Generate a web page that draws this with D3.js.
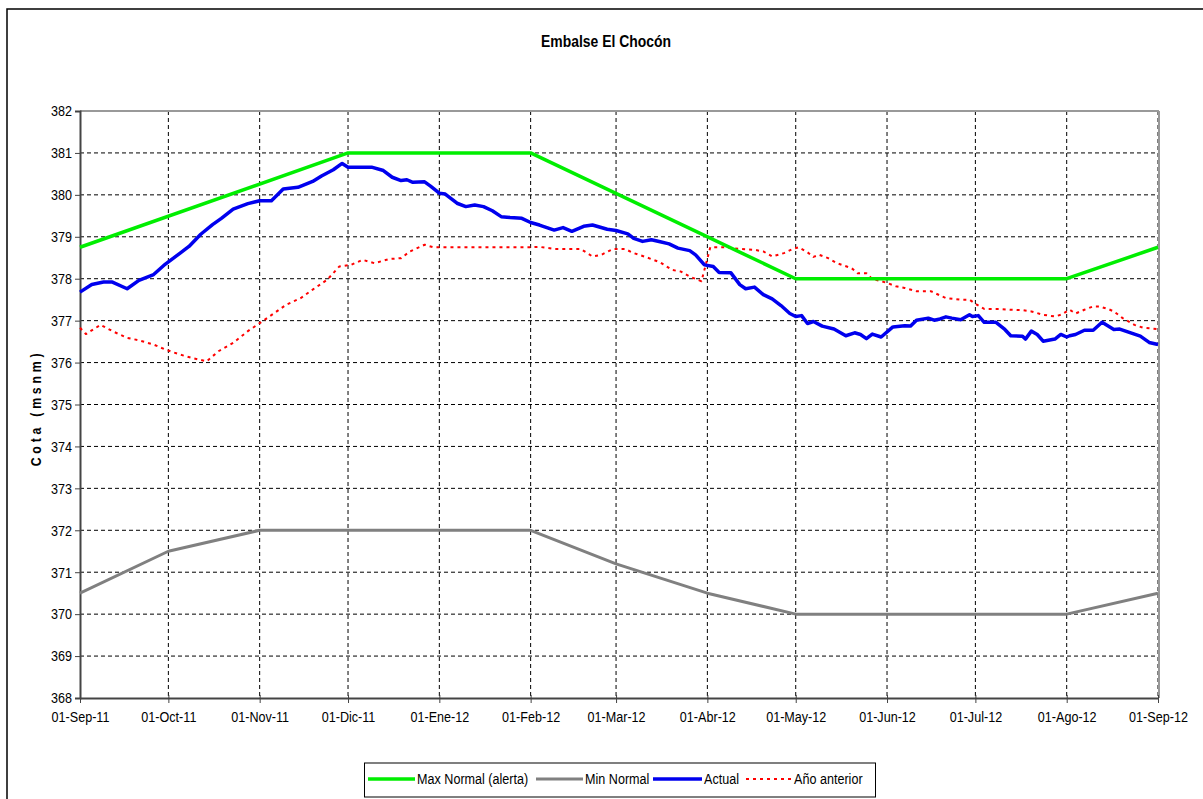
<!DOCTYPE html>
<html><head><meta charset="utf-8">
<script src="https://cdn.jsdelivr.net/npm/d3@7/dist/d3.min.js"></script>
<style>
body{margin:0;background:#fff;}
svg text{font-family:"Liberation Sans Narrow","Arial Narrow","Liberation Sans",Arial,sans-serif;}
</style>
</head><body>
<svg id="c" width="1203" height="799"></svg>
<script>
const title = "Embalse El Chocón";
const yLabel = "Cota (msnm)";
const tickDates = ["2011-09-01","2011-10-01","2011-11-01","2011-12-01","2012-01-01","2012-02-01","2012-03-01","2012-04-01","2012-05-01","2012-06-01","2012-07-01","2012-08-01","2012-09-01"];
const tickLabels = ["01-Sep-11","01-Oct-11","01-Nov-11","01-Dic-11","01-Ene-12","01-Feb-12","01-Mar-12","01-Abr-12","01-May-12","01-Jun-12","01-Jul-12","01-Ago-12","01-Sep-12"];
const yTicks = [368,369,370,371,372,373,374,375,376,377,378,379,380,381,382];

const maxDates = ["2011-09-01","2011-12-01","2012-02-01","2012-05-01","2012-08-01","2012-09-01"];
const maxValues = [378.75,381,381,378,378,378.75];

const minDates = ["2011-09-01","2011-10-01","2011-11-01","2012-02-01","2012-03-01","2012-04-01","2012-05-01","2012-08-01","2012-09-01"];
const minValues = [370.5,371.5,372,372,371.2,370.5,370,370,370.5];

const actualDates = ["2011-09-01","2011-09-05","2011-09-09","2011-09-12","2011-09-17","2011-09-21","2011-09-26","2011-09-30","2011-10-05","2011-10-08","2011-10-12","2011-10-16","2011-10-19","2011-10-23","2011-10-28","2011-11-01","2011-11-05","2011-11-09","2011-11-14","2011-11-19","2011-11-22","2011-11-26","2011-11-29","2011-12-01","2011-12-05","2011-12-09","2011-12-13","2011-12-16","2011-12-19","2011-12-21","2011-12-23","2011-12-27","2011-12-29","2012-01-01","2012-01-03","2012-01-07","2012-01-10","2012-01-13","2012-01-16","2012-01-19","2012-01-22","2012-01-25","2012-01-29","2012-02-01","2012-02-04","2012-02-09","2012-02-12","2012-02-15","2012-02-19","2012-02-22","2012-02-27","2012-03-01","2012-03-05","2012-03-07","2012-03-10","2012-03-13","2012-03-16","2012-03-19","2012-03-22","2012-03-26","2012-03-28","2012-03-31","2012-04-03","2012-04-05","2012-04-09","2012-04-12","2012-04-14","2012-04-17","2012-04-20","2012-04-23","2012-04-26","2012-04-29","2012-05-01","2012-05-03","2012-05-05","2012-05-07","2012-05-10","2012-05-14","2012-05-18","2012-05-21","2012-05-23","2012-05-25","2012-05-27","2012-05-30","2012-06-03","2012-06-07","2012-06-09","2012-06-11","2012-06-15","2012-06-17","2012-06-19","2012-06-21","2012-06-23","2012-06-26","2012-06-29","2012-06-30","2012-07-02","2012-07-04","2012-07-08","2012-07-11","2012-07-13","2012-07-17","2012-07-18","2012-07-20","2012-07-22","2012-07-24","2012-07-28","2012-07-30","2012-08-01","2012-08-02","2012-08-04","2012-08-07","2012-08-10","2012-08-13","2012-08-17","2012-08-19","2012-08-21","2012-08-26","2012-08-29","2012-09-01"];
const actualValues = [377.68,377.86,377.92,377.92,377.76,377.96,378.10,378.35,378.61,378.77,379.06,379.29,379.44,379.66,379.79,379.86,379.86,380.14,380.18,380.32,380.45,380.60,380.75,380.66,380.66,380.66,380.58,380.42,380.34,380.36,380.30,380.31,380.21,380.04,380.02,379.80,379.72,379.76,379.72,379.62,379.48,379.46,379.44,379.34,379.28,379.16,379.22,379.13,379.25,379.28,379.18,379.15,379.07,378.96,378.89,378.93,378.88,378.83,378.73,378.67,378.57,378.33,378.29,378.15,378.14,377.86,377.76,377.80,377.62,377.52,377.36,377.17,377.10,377.12,376.93,376.98,376.87,376.80,376.64,376.71,376.67,376.57,376.68,376.61,376.85,376.88,376.87,377.01,377.06,377.01,377.04,377.09,377.06,377.02,377.14,377.10,377.12,376.96,376.96,376.79,376.64,376.63,376.56,376.75,376.67,376.51,376.56,376.67,376.61,376.64,376.67,376.77,376.77,376.96,376.79,376.80,376.75,376.63,376.48,376.43];

const prevDates = ["2011-09-01","2011-09-03","2011-09-08","2011-09-12","2011-09-17","2011-09-21","2011-09-26","2011-09-30","2011-10-05","2011-10-09","2011-10-14","2011-10-18","2011-10-23","2011-10-28","2011-11-01","2011-11-06","2011-11-10","2011-11-15","2011-11-19","2011-11-24","2011-11-28","2011-12-02","2011-12-06","2011-12-10","2011-12-15","2011-12-19","2011-12-22","2011-12-27","2011-12-30","2012-02-01","2012-02-04","2012-02-09","2012-02-18","2012-02-22","2012-02-25","2012-02-29","2012-03-04","2012-03-07","2012-03-11","2012-03-16","2012-03-20","2012-03-23","2012-03-26","2012-03-30","2012-04-02","2012-04-07","2012-04-12","2012-04-17","2012-04-20","2012-04-23","2012-04-27","2012-04-30","2012-05-02","2012-05-05","2012-05-07","2012-05-09","2012-05-12","2012-05-15","2012-05-20","2012-05-22","2012-05-25","2012-05-27","2012-05-30","2012-06-01","2012-06-04","2012-06-07","2012-06-11","2012-06-16","2012-06-19","2012-06-21","2012-06-26","2012-06-29","2012-07-01","2012-07-04","2012-07-09","2012-07-13","2012-07-17","2012-07-20","2012-07-24","2012-07-28","2012-07-30","2012-08-02","2012-08-04","2012-08-07","2012-08-10","2012-08-12","2012-08-15","2012-08-17","2012-08-20","2012-08-24","2012-08-27","2012-09-01"];
const prevValues = [376.83,376.68,376.90,376.75,376.59,376.53,376.43,376.31,376.19,376.11,376.03,376.27,376.47,376.75,376.94,377.18,377.38,377.54,377.74,377.98,378.29,378.33,378.45,378.37,378.47,378.49,378.65,378.81,378.75,378.75,378.76,378.71,378.71,378.53,378.57,378.71,378.71,378.61,378.52,378.39,378.21,378.17,378.05,377.94,378.75,378.75,378.71,378.69,378.65,378.53,378.61,378.71,378.75,378.63,378.52,378.57,378.49,378.37,378.25,378.13,378.13,377.99,377.94,377.90,377.82,377.78,377.70,377.70,377.60,377.54,377.50,377.50,377.40,377.28,377.28,377.26,377.25,377.22,377.14,377.10,377.14,377.26,377.17,377.26,377.34,377.34,377.28,377.22,377.06,376.90,376.83,376.80];

const legendNames = ["Max Normal (alerta)","Min Normal","Actual","Año anterior"];

const parse = d3.timeParse("%Y-%m-%d");
const svg = d3.select("#c");
const L = 80, R = 1158, T = 111, B = 698;
const SX = 0.84;

const x = d3.scaleTime().domain([parse(tickDates[0]), parse(tickDates[tickDates.length-1])]).range([L, R]);
const y = d3.scaleLinear().domain([368, 382]).range([B, T]);

// outer border
svg.append("rect").attr("x",7).attr("y",9).attr("width",1300).attr("height",900)
  .attr("fill","none").attr("stroke","#000").attr("stroke-width",1.5);

// title
svg.append("text").attr("transform","translate(606,47) scale(0.82,1)").attr("text-anchor","middle")
  .style("font-size","17px").style("font-weight","bold").text(title);

// grid
const g = svg.append("g");
g.selectAll("line.hg").data(yTicks.slice(1, -1)).enter().append("line")
  .attr("x1",L).attr("x2",R).attr("y1",d=>y(d)).attr("y2",d=>y(d))
  .attr("stroke","#000").attr("stroke-width",1).attr("stroke-dasharray","4,3");
g.selectAll("line.vg").data(tickDates.slice(1)).enter().append("line")
  .attr("x1",d=>x(parse(d))).attr("x2",d=>x(parse(d))).attr("y1",T).attr("y2",B)
  .attr("stroke","#000").attr("stroke-width",1).attr("stroke-dasharray","4,3");

// frame top / right
svg.append("line").attr("x1",L).attr("x2",R+1).attr("y1",T).attr("y2",T).attr("stroke","#999").attr("stroke-width",2);
svg.append("line").attr("x1",R+1).attr("x2",R+1).attr("y1",T).attr("y2",B).attr("stroke","#999").attr("stroke-width",2);

// axes
const yAxis = d3.axisLeft(y).tickValues(yTicks).tickFormat(d3.format("d")).tickSize(5).tickPadding(3);
const ya = svg.append("g").attr("transform",`translate(${L},0)`).call(yAxis);
ya.select(".domain").attr("stroke","#444").attr("stroke-width",2);
ya.selectAll(".tick line").attr("stroke","#444");
ya.selectAll("text").style("font-size","15px").attr("fill","#000")
  .attr("x",-8/SX).attr("transform",`scale(${SX},1)`);

const xAxis = d3.axisBottom(x).tickValues(tickDates.map(parse)).tickFormat((d,i)=>tickLabels[i]).tickSizeInner(5).tickSizeOuter(0).tickPadding(8);
const xa = svg.append("g").attr("transform",`translate(0,${B})`).call(xAxis);
xa.select(".domain").attr("stroke","#444").attr("stroke-width",2);
xa.selectAll(".tick line").attr("stroke","#444").attr("y1",-3);
xa.selectAll("text").style("font-size","15px").attr("fill","#000").attr("transform",`scale(${SX},1)`);

// y label
svg.append("text").attr("transform","translate(41,408) rotate(-90) scale(0.82,1)").attr("text-anchor","middle")
  .style("font-size","15px").style("font-weight","bold").style("letter-spacing","4.6px").text(yLabel);

// lines
const line = d3.line().x(d=>x(d[0])).y(d=>y(d[1]));
function series(dates, vals){ return dates.map((d,i)=>[parse(d), vals[i]]); }
const styles = [
  {c:"#00ee00", w:3.5, dash:null},
  {c:"#808080", w:3, dash:null},
  {c:"#0000ee", w:3.5, dash:null},
  {c:"#ff0000", w:2, dash:"3,4"}
];
const data = [series(minDates,minValues), series(prevDates,prevValues), series(maxDates,maxValues), series(actualDates,actualValues)];
const order = [1,3,0,2];
data.forEach((s,k)=>{
  const st = styles[order[k]];
  svg.append("path").datum(s).attr("d",line).attr("fill","none")
    .attr("stroke",st.c).attr("stroke-width",st.w).attr("stroke-linejoin","round")
    .attr("stroke-dasharray",st.dash);
});

// legend
const lg = svg.append("g");
lg.append("rect").attr("x",364.5).attr("y",763).attr("width",511).attr("height",34)
  .attr("fill","#fff").attr("stroke","#000").attr("stroke-width",1);
const lx = [368, 536, 653, 746];
const lw = [47, 47, 49, 46];
legendNames.forEach((n,i)=>{
  const st = styles[i];
  lg.append("line").attr("x1",lx[i]).attr("x2",lx[i]+lw[i]).attr("y1",779).attr("y2",779)
    .attr("stroke",st.c).attr("stroke-width",st.w).attr("stroke-dasharray",st.dash);
  lg.append("text").attr("transform",`translate(${lx[i]+lw[i]+2},784) scale(${SX},1)`)
    .style("font-size","15px").text(n);
});
</script>
</body></html>
